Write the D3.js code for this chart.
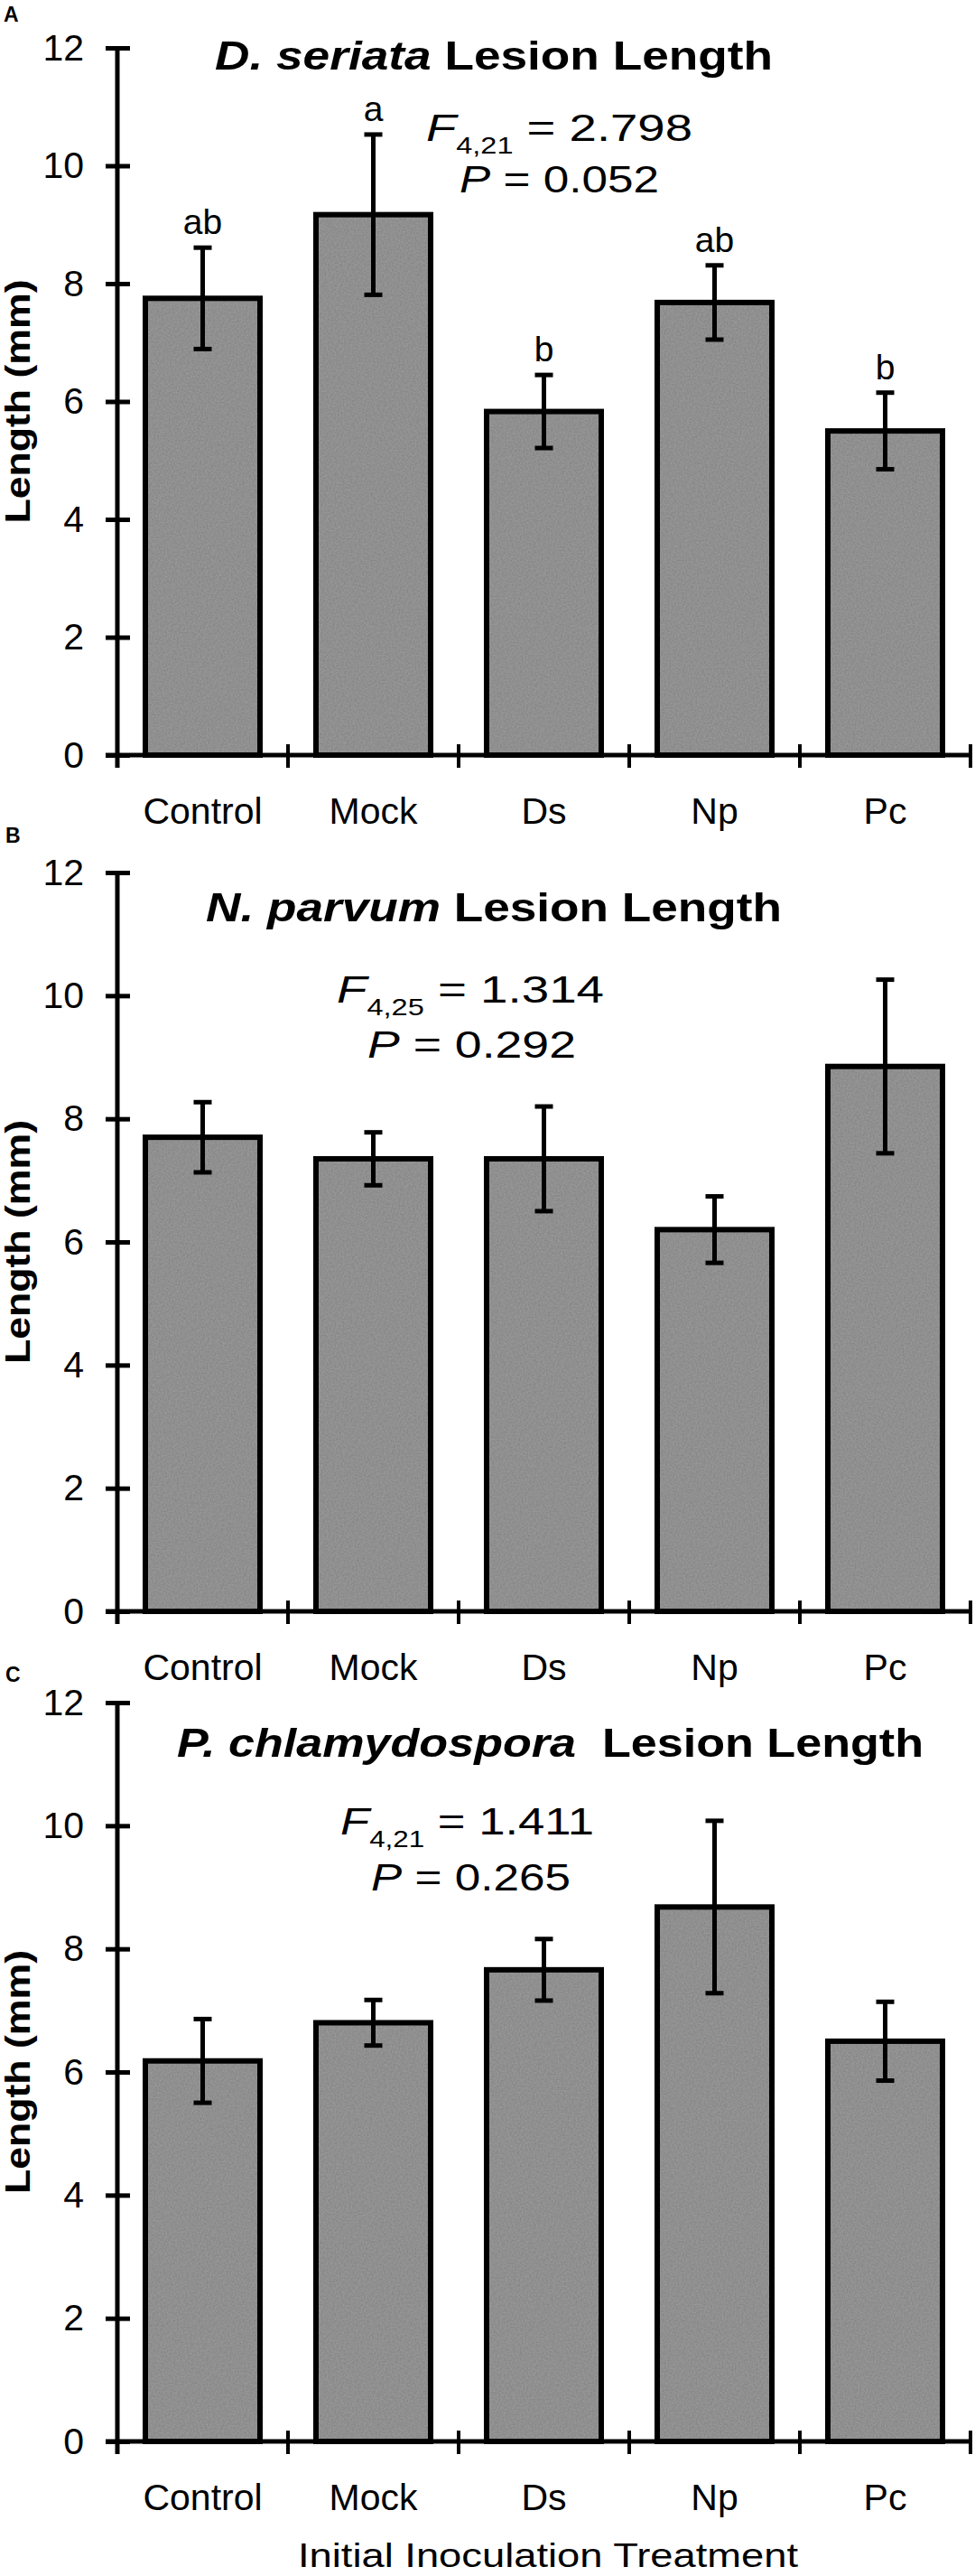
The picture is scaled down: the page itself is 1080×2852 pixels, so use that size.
<!DOCTYPE html>
<html>
<head>
<meta charset="utf-8">
<script src="https://cdn.jsdelivr.net/npm/d3@7"></script>
<style>
  body { margin: 0; background: #fff; }
  svg text { font-family: Arial, "Liberation Sans", sans-serif; fill: #000; }
</style>
</head>
<body>
<svg id="chart"></svg>
<script>
// ---- data ----
const categories = ["Control", "Mock", "Ds", "Np", "Pc"];
const yTicks = [0, 2, 4, 6, 8, 10, 12];

const seriataMeans = [7.75, 9.17, 5.83, 7.68, 5.50];
const seriataErr = [0.86, 1.36, 0.62, 0.63, 0.65];
const seriataLetters = ["ab", "a", "b", "ab", "b"];

const parvumMeans = [7.70, 7.35, 7.35, 6.20, 8.85];
const parvumErr = [0.57, 0.43, 0.85, 0.54, 1.41];

const chlamyMeans = [6.18, 6.80, 7.66, 8.68, 6.50];
const chlamyErr = [0.68, 0.37, 0.50, 1.40, 0.64];

const panelLetters = ["A", "B", "C"];
const speciesNames = ["D. seriata", "N. parvum", "P. chlamydospora"];
const fDf = ["4,21", "4,25", "4,21"];
const fValues = ["2.798", "1.314", "1.411"];
const pValues = ["0.052", "0.292", "0.265"];

// ---- layout ----
const W = 1080, H = 2852;
const svg = d3.select("#chart").attr("width", W).attr("height", H);

// light grain like the scanned bar fill
const defs = svg.append("defs");
const grain = defs.append("filter").attr("id", "grain")
  .attr("x", 0).attr("y", 0).attr("width", 1).attr("height", 1);
grain.append("feTurbulence").attr("type", "fractalNoise")
  .attr("baseFrequency", 0.55).attr("numOctaves", 2).attr("seed", 3).attr("result", "n");
grain.append("feColorMatrix").attr("in", "n").attr("type", "matrix")
  .attr("values", "0 0 0 0 0.5  0 0 0 0 0.5  0 0 0 0 0.5  0.5 0 0 0 -0.1").attr("result", "nm");
grain.append("feComposite").attr("in", "nm").attr("in2", "SourceGraphic").attr("operator", "in").attr("result", "nc");
const gm = grain.append("feMerge");
gm.append("feMergeNode").attr("in", "SourceGraphic");
gm.append("feMergeNode").attr("in", "nc");

const xLeft = 130, xRight = 1075;

const panels = [
  { top: 53, bottom: 836, means: seriataMeans, err: seriataErr, letters: seriataLetters,
    tag: [4, 24], title: [238, 856, 77], fLine: [472, 767, 156], pLine: [509, 730, 213] },
  { top: 966, bottom: 1784, means: parvumMeans, err: parvumErr, letters: null,
    tag: [6, 933], title: [228, 866, 1020], fLine: [373, 669, 1110], pLine: [407, 638, 1171] },
  { top: 1885, bottom: 2703, means: chlamyMeans, err: chlamyErr, letters: null,
    tag: [6, 1862], title: [196, 1023, 1945], fLine: [377, 658, 2031], pLine: [411, 632, 2093] }
];

const x = d3.scaleBand().domain(categories).range([xLeft, xRight])
  .paddingInner(0.328).paddingOuter(0.164);

panels.forEach((p, i) => {
  const y = d3.scaleLinear().domain([0, 12]).range([p.bottom, p.top]);
  const g = svg.append("g");
  const rows = categories.map((c, k) => ({ cat: c, mean: p.means[k], err: p.err[k],
    letter: p.letters ? p.letters[k] : null }));

  // bars: grainy fill, then a solid outline on top
  g.selectAll("rect.bar").data(rows).join("rect")
    .attr("class", "bar")
    .attr("x", d => x(d.cat))
    .attr("y", d => y(d.mean))
    .attr("width", x.bandwidth())
    .attr("height", d => y(0) - y(d.mean))
    .attr("fill", "#868686")
    .attr("filter", "url(#grain)");
  g.selectAll("rect.outline").data(rows).join("rect")
    .attr("class", "outline")
    .attr("x", d => x(d.cat))
    .attr("y", d => y(d.mean))
    .attr("width", x.bandwidth())
    .attr("height", d => y(0) - y(d.mean))
    .attr("fill", "none")
    .attr("stroke", "#000")
    .attr("stroke-width", 6);

  // error bars
  const eb = g.selectAll("g.err").data(rows).join("g").attr("class", "err")
    .attr("stroke", "#000").attr("stroke-width", 5);
  const cx = d => x(d.cat) + x.bandwidth() / 2;
  eb.append("line").attr("x1", cx).attr("x2", cx)
    .attr("y1", d => y(d.mean - d.err)).attr("y2", d => y(d.mean + d.err));
  [-1, 1].forEach(s => {
    eb.append("line").attr("x1", d => cx(d) - 10).attr("x2", d => cx(d) + 10)
      .attr("y1", d => y(d.mean + s * d.err)).attr("y2", d => y(d.mean + s * d.err));
  });

  // significance letters
  if (p.letters) {
    g.selectAll("text.sig").data(rows).join("text").attr("class", "sig")
      .attr("x", cx).attr("y", d => y(d.mean + d.err) - 15)
      .attr("text-anchor", "middle").attr("font-size", 39)
      .text(d => d.letter);
  }

  // y axis
  const yAxis = g.append("g").attr("transform", `translate(${xLeft},0)`)
    .call(d3.axisLeft(y).tickValues(yTicks).tickSize(13).tickPadding(24).tickFormat(d3.format("d")));
  yAxis.select(".domain").remove();
  yAxis.selectAll(".tick line").attr("x1", 14).attr("x2", -13)
    .attr("stroke", "#000").attr("stroke-width", 5);
  yAxis.selectAll(".tick text").attr("font-size", 41)
    .attr("font-family", "Arial, 'Liberation Sans', sans-serif").attr("fill", "#000");
  g.append("line").attr("x1", xLeft).attr("x2", xLeft)
    .attr("y1", y(12)).attr("y2", y(0) + 14)
    .attr("stroke", "#000").attr("stroke-width", 5);

  // x axis: line, boundary ticks, category labels
  const xAxis = g.append("g").attr("transform", `translate(0,${y(0)})`)
    .call(d3.axisBottom(x).tickSize(0).tickPadding(47));
  xAxis.select(".domain").remove();
  xAxis.selectAll(".tick text").attr("font-size", 41)
    .attr("font-family", "Arial, 'Liberation Sans', sans-serif").attr("fill", "#000");
  g.append("line").attr("x1", xLeft - 13).attr("x2", xRight)
    .attr("y1", y(0)).attr("y2", y(0))
    .attr("stroke", "#000").attr("stroke-width", 5);
  const bounds = categories.map(c => x(c) + x.bandwidth() + x.step() * x.paddingInner() / 2);
  g.selectAll("line.bt").data(bounds).join("line").attr("class", "bt")
    .attr("x1", d => d).attr("x2", d => d)
    .attr("y1", y(0) - 12).attr("y2", y(0) + 14)
    .attr("stroke", "#000").attr("stroke-width", 4);

  // y label
  svg.append("text")
    .attr("transform", `translate(33,${(y(0) + y(12)) / 2}) rotate(-90)`)
    .attr("text-anchor", "middle").attr("font-size", 38).attr("font-weight", "bold")
    .attr("textLength", 270).attr("lengthAdjust", "spacingAndGlyphs")
    .text("Length (mm)");

  // panel letter
  svg.append("text").attr("x", p.tag[0]).attr("y", p.tag[1])
    .attr("font-size", 23).attr("font-weight", "bold").text(panelLetters[i]);

  // title
  const t = svg.append("text").attr("x", p.title[0]).attr("y", p.title[2])
    .attr("font-size", 45).attr("font-weight", "bold")
    .attr("textLength", p.title[1] - p.title[0]).attr("lengthAdjust", "spacingAndGlyphs");
  t.append("tspan").attr("font-style", "italic").text(speciesNames[i]);
  t.append("tspan").text(i === 2 ? "\u00a0 Lesion Length" : " Lesion Length");

  // statistics
  const f = svg.append("text").attr("x", p.fLine[0]).attr("y", p.fLine[2])
    .attr("font-size", 42)
    .attr("textLength", p.fLine[1] - p.fLine[0]).attr("lengthAdjust", "spacingAndGlyphs");
  f.append("tspan").attr("font-style", "italic").text("F");
  f.append("tspan").attr("font-size", 25).attr("dy", 14).text(fDf[i]);
  f.append("tspan").attr("dy", -14).text(" = " + fValues[i]);

  const pt = svg.append("text").attr("x", p.pLine[0]).attr("y", p.pLine[2])
    .attr("font-size", 42)
    .attr("textLength", p.pLine[1] - p.pLine[0]).attr("lengthAdjust", "spacingAndGlyphs");
  pt.append("tspan").attr("font-style", "italic").text("P");
  pt.append("tspan").text(" = " + pValues[i]);
});

// shared x-axis title
svg.append("text").attr("x", 330).attr("y", 2842)
  .attr("font-family", "'DejaVu Sans', Verdana, sans-serif").attr("font-size", 36)
  .attr("textLength", 554).attr("lengthAdjust", "spacingAndGlyphs")
  .text("Initial Inoculation Treatment");
</script>
</body>
</html>
